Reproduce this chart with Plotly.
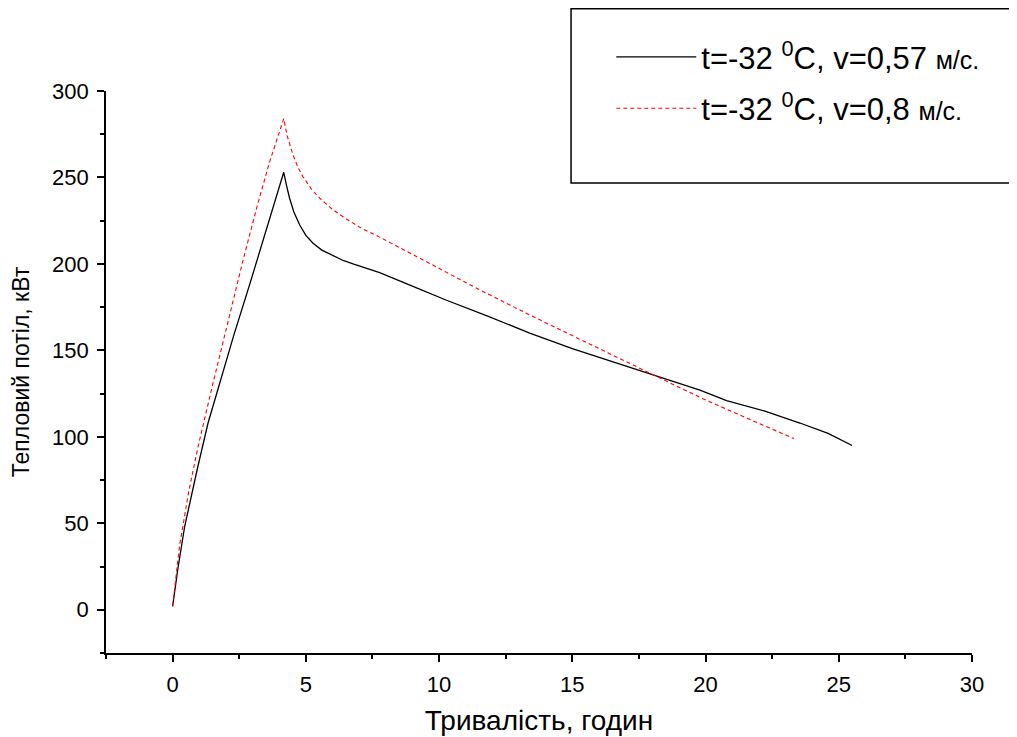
import plotly.graph_objects as go

# Series 1: t=-32 °C, v=0,57 m/s
black_x = [0, 0.2, 0.45, 0.7, 0.95, 1.33, 1.76, 2.3, 2.89, 3.5, 4.17,
           4.28, 4.39, 4.55, 4.77, 5.0, 5.27, 5.6, 6.02, 6.4, 6.77, 7.77,
           9.02, 10.28, 11.8, 13.4, 15.0, 17.16, 19.79, 20.79, 22.2, 23.54, 24.6, 25.5]
black_y = [2, 24, 48, 66, 83, 108, 131, 159, 188, 219, 253,
           245, 238, 230, 222.5, 216.5, 212, 208, 205, 202, 200, 195,
           187, 179, 170, 160, 151, 140, 127, 121, 115, 108, 102, 95]

# Series 2: t=-32 °C, v=0,8 m/s
red_x = [0, 0.26, 0.6, 0.95, 1.5, 2.1, 2.64, 3.2, 3.64, 4.17,
         4.3, 4.52, 4.7, 4.89, 5.2, 5.52, 6.0, 6.52, 7.1, 7.77, 9.02,
         9.65, 10.28, 11.53, 13.4, 15.2, 17.16, 19.9, 21.6, 23.32]
red_y = [2, 37, 68, 94, 130, 168, 202, 235, 259, 284,
         274, 263, 256, 250.5, 243.5, 238, 231.5, 226, 220.5, 215.5, 205.5,
         200, 195, 185, 170.5, 157, 142.5, 122, 110.5, 99]

legend_names = ["t=-32 <sup>0</sup>C, v=0,57 <span style='font-size:25px'>м/с.</span>",
                "t=-32 <sup>0</sup>C, v=0,8 <span style='font-size:25px'>м/с.</span>"]

x_title = "Тривалість, годин"
y_title = "Тепловий потіл, кВт"

FONT = "Liberation Sans, Arial"

fig = go.Figure()
fig.add_trace(go.Scatter(x=black_x, y=black_y, mode="lines", name=legend_names[0],
                         line=dict(color="black", width=1.3), legendgroup="a"))
fig.add_trace(go.Scatter(x=red_x, y=red_y, mode="lines", name=legend_names[1],
                         line=dict(color="#ff0000", width=1.1, dash="4px,3px"), legendgroup="b"))

axis_common = dict(showline=True, linecolor="black", linewidth=1.8, ticks="outside",
                   ticklen=7, tickwidth=1.8, tickcolor="black", showgrid=False, zeroline=False,
                   automargin=False,
                   tickfont=dict(family=FONT, size=22, color="black"))

fig.update_xaxes(range=[-2.5, 30], dtick=5, tick0=0, ticklabelstandoff=4,
                 minor=dict(ticks="outside", ticklen=4, tickwidth=1.8, tickcolor="black", dtick=2.5, tick0=0),
                 title=dict(text=x_title, font=dict(family=FONT, size=28, color="black"),
                            standoff=14),
                 **axis_common)
fig.update_yaxes(range=[-25, 300], dtick=50, tick0=0, ticklabelstandoff=4,
                 minor=dict(ticks="outside", ticklen=4, tickwidth=1.8, tickcolor="black", dtick=25, tick0=0),
                 title=dict(text=y_title, font=dict(family=FONT, size=23, color="black"),
                            standoff=18),
                 **axis_common)

fig.add_shape(type="rect", xref="paper", yref="paper", x0=0.537, x1=1.2, y0=0.8363, y1=1.1462,
              line=dict(color="black", width=1.5), fillcolor="rgba(0,0,0,0)", layer="above")

fig.update_layout(
    width=1009, height=729,
    margin=dict(l=98, r=45, t=83, b=84, autoexpand=False),
    paper_bgcolor="white", plot_bgcolor="white",
    showlegend=True,
    legend=dict(x=0.5835, y=1.108, xanchor="left", yanchor="top", bgcolor="rgba(0,0,0,0)",
                borderwidth=0, itemwidth=80, traceorder="grouped", tracegroupgap=8,
                font=dict(family=FONT, size=31, color="black")),
    font=dict(family=FONT, color="black"),
)

fig.write_html("out.html")
